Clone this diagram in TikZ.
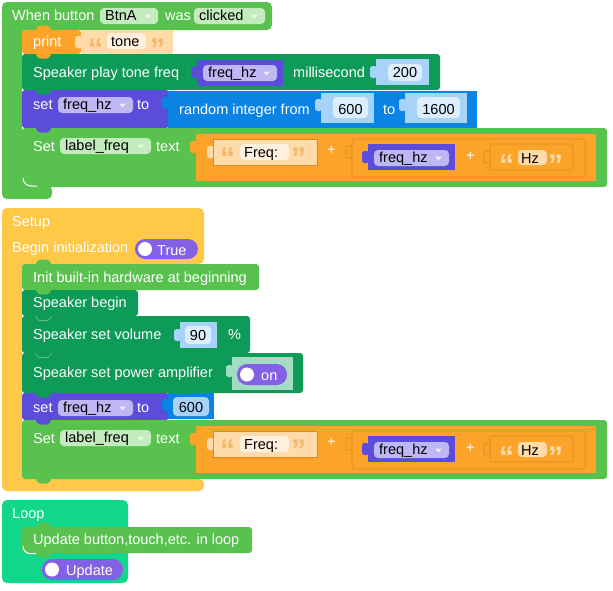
\documentclass[tikz,border=0pt]{standalone}
\usepackage{fontspec}
\setmainfont{Liberation Sans}
\usepackage{tikz}
\definecolor{evtgreen}{HTML}{59C24F}
\definecolor{evtfld}{HTML}{C3EBBD}
\definecolor{dkgreen}{HTML}{0E9A57}
\definecolor{prtorange}{HTML}{FCA32A}
\definecolor{strfill}{HTML}{FFDBA9}
\definecolor{strpill}{HTML}{FFF1DE}
\definecolor{strq}{HTML}{F5B769}
\definecolor{jnline}{HTML}{D98B1F}
\definecolor{varpurple}{HTML}{5B4CDC}
\definecolor{varfld}{HTML}{BFB7F3}
\definecolor{mathblue}{HTML}{0B83E5}
\definecolor{numblk}{HTML}{A6D3F7}
\definecolor{numfld}{HTML}{DCEEFD}
\definecolor{setupyel}{HTML}{FFC846}
\definecolor{looptl}{HTML}{12D78B}
\definecolor{togpurple}{HTML}{8461E4}
\definecolor{mint}{HTML}{A2DCC3}
\newcommand{\blkfont}{\fontsize{14.5}{17}\selectfont}
\newcommand{\qfont}{\fontsize{30}{30}\selectfont\bfseries}
\tikzset{
  lbl/.style   ={anchor=base west, inner sep=0pt, text=white, font=\blkfont},
  valtxt/.style={lbl, text=black},
  qmark/.style ={anchor=base west, inner sep=0pt, font=\qfont},
  pill/.style  ={rounded corners=4pt},
  toggle/.style={fill=togpurple, rounded corners=10pt},
  cblock/.style={rounded corners=5pt},
  stmt/.style  ={rounded corners=3pt},
  % outlined (shadowed) slot inside a join block
  outl/.style  ={fill=prtorange, draw=jnline, line width=.6pt, rounded corners=2pt},
}
% dropdown field: name, x, top, width, text, colour
\newcommand{\ddown}[6]{%
  \fill[#6, pill] (#2,#3) rectangle ++(#4,16);
  \node[valtxt] (#1) at (#2+5,#3+12) {#5};
  \fill[white, opacity=.7] (#2+#4-14,#3+6.5) -- ++(7,0) -- ++(-3.5,4) -- cycle;}
% number field: name, x, top, width, height, text, colour
\newcommand{\numfld}[7]{%
  \fill[#7, pill] (#2,#3) rectangle ++(#4,#5);
  \node[valtxt, anchor=base] (#1) at (#2+#4/2,#3+#5-4) {#6};}
% puzzle tab on the left edge of a value block
\newcommand{\ltab}[3]{\fill[#1, rounded corners=2.5pt] (#2-6,#3-6) rectangle (#2+1,#3+6);}
\newcommand{\ltabo}[2]{\filldraw[outl] (#1-6,#2-6) rectangle (#1+1,#2+6);}
% statement notches
\newcommand{\nubdown}[2]{\fill[#1, rounded corners=1.5pt] (35,#2) -- ++(4,4.5) -- ++(9,0) -- ++(4,-4.5) -- cycle;}
\newcommand{\nubup}[2]{\fill[#1, rounded corners=1.5pt] (35,#2) -- ++(4,-4.5) -- ++(9,0) -- ++(4,4.5) -- cycle;}
\newcommand{\nubline}[1]{\draw[dkgreen!65!white, line width=.6pt] (35,#1) -- ++(4,4.5) -- ++(9,0) -- ++(4,-4.5);}
% Set label_freq text "Freq:" + freq_hz + "Hz"
\newcommand{\labelrow}[2]{%
  \fill[evtgreen, stmt] (22,#2) rectangle (607,#2+59);
  \node[lbl] (#1set) at (33,#2+23) {Set};
  \ddown{#1lab}{60}{#2+10}{91}{label\_freq}{evtfld}
  \node[lbl] (#1txt) at (156,#2+23) {text};
  \ltab{prtorange}{196}{#2+19}
  \fill[prtorange] (196,#2+6) rectangle (596,#2+53);
  \ltab{strfill}{213}{#2+24}
  \filldraw[fill=strfill, draw=jnline, line width=.5pt] (213,#2+11) rectangle (317,#2+37);
  \node[qmark, text=strq] (#1qa) at (220,#2+40) {“};
  \fill[strpill, pill] (240,#2+16) rectangle (289,#2+32);
  \node[valtxt] (#1frq) at (244,#2+29) {Freq:};
  \node[qmark, text=strq] (#1qb) at (291,#2+40) {”};
  \node[lbl] (#1pla) at (327,#2+26) {+};
  \ltabo{352}{#2+24}
  \filldraw[outl] (352,#2+11) rectangle (585,#2+49);
  \ltab{varpurple}{368}{#2+29}
  \fill[varpurple] (368,#2+16) rectangle (455,#2+42);
  \ddown{#1var}{374}{#2+22}{75}{freq\_hz}{varfld}
  \node[lbl] (#1plb) at (466,#2+32) {+};
  \ltabo{490}{#2+29}
  \filldraw[outl] (490,#2+16) rectangle (573,#2+42);
  \node[qmark, text=strfill] (#1qc) at (499,#2+47) {“};
  \fill[strfill, pill] (518,#2+22) rectangle (547,#2+37);
  \node[valtxt] (#1hz) at (521,#2+35) {Hz};
  \node[qmark, text=strfill] (#1qd) at (548,#2+47) {”};}

\begin{document}
\begin{tikzpicture}[x=1pt,y=-1pt]
\useasboundingbox (0,0) rectangle (613,590);

% ---- When button BtnA was clicked
\fill[evtgreen, cblock] (2,2) -- (272,2) -- (272,30) -- (22,30) -- (22,185)
  -- (52,185) -- (52,199) -- (2,199) -- cycle;
\node[lbl] (when) at (12,20) {When button};
\ddown{btn}{100}{8}{58}{BtnA}{evtfld}
\node[lbl] (was) at (165,20) {was};
\ddown{clk}{194}{8}{71}{clicked}{evtfld}

\fill[prtorange, stmt] (22,30) rectangle (81,54);
\node[lbl] (print) at (33,46) {print};
\ltab{strfill}{81}{42}
\fill[strfill] (81,30) rectangle (173,54);
\node[qmark, text=strq] (pqa) at (88,59) {“};
\fill[strpill, pill] (107,33) rectangle (146,49);
\node[valtxt] (tone) at (111,46) {tone};
\node[qmark, text=strq] (pqb) at (150,59) {”};

\fill[dkgreen, stmt] (22,54) rectangle (440,90);
\node[lbl] (play) at (33,77) {Speaker play tone freq};
\ltab{varpurple}{197}{72}
\fill[varpurple] (197,60) rectangle (283,86);
\ddown{playvar}{203}{65}{74}{freq\_hz}{varfld}
\node[lbl] (ms) at (293,77) {millisecond};
\ltab{numblk}{376}{72}
\fill[numblk] (376,59) rectangle (429,85);
\numfld{msval}{388}{64}{34}{17}{200}{numfld}

\fill[varpurple, stmt] (22,90) rectangle (169,128);
\node[lbl] (seta) at (33,109) {set};
\ddown{setavar}{58}{97}{75}{freq\_hz}{varfld}
\node[lbl] (toa) at (137,109) {to};
\ltab{mathblue}{168}{103}
\fill[mathblue] (168,91) rectangle (477,128);
\node[lbl] (rnd) at (179,114) {random integer from};
\ltab{numblk}{321}{105}
\fill[numblk] (321,93) rectangle (374,123);
\numfld{lo}{333}{97}{35}{21}{600}{numfld}
\node[lbl] (tob) at (383,114) {to};
\ltab{numblk}{405}{105}
\fill[numblk] (405,93) rectangle (467,123);
\numfld{hi}{417}{97}{43}{21}{1600}{numfld}

\labelrow{a}{128}
\nubup{prtorange}{30}
\nubdown{prtorange}{54}
\nubdown{dkgreen}{90}
\nubdown{varpurple}{128}
\draw[white, line width=1pt] (23,178) to[out=-90,in=180] (31,186) -- (37,186);

% ---- Setup
\fill[setupyel, cblock] (2,208) -- (204,208) -- (204,264) -- (22,264) -- (22,479)
  -- (204,479) -- (204,491) -- (2,491) -- cycle;
\node[lbl] (setup) at (12,226) {Setup};
\node[lbl] (begin) at (12,252) {Begin initialization};
\fill[toggle] (135,239) rectangle (198,259);
\fill[white] (145,249) circle (7pt);
\node[lbl] (true) at (157,255) {True};

\fill[evtgreen, stmt] (22,264) rectangle (259,290);
\node[lbl] (init) at (33,282) {Init built-in hardware at beginning};
\fill[dkgreen, stmt] (22,290) rectangle (138,316);
\node[lbl] (spkbeg) at (33,307) {Speaker begin};
\fill[dkgreen, stmt] (22,316) rectangle (250,353);
\node[lbl] (vol) at (33,339) {Speaker set volume};
\ltab{numblk}{180}{335}
\fill[numblk] (180,322) rectangle (217,348);
\numfld{volval}{185}{326}{26}{18}{90}{numfld}
\node[lbl] (pct) at (228,339) {\%};
\fill[dkgreen, stmt] (22,353) rectangle (303,393);
\node[lbl] (amp) at (33,377) {Speaker set power amplifier};
\ltab{mint}{232}{371}
\fill[mint] (232,357) rectangle (293,390);
\fill[toggle] (237,364) rectangle (287,385);
\fill[white] (247,374.5) circle (7pt);
\node[lbl] (on) at (261,380) {on};

\fill[varpurple, stmt] (22,393) rectangle (169,420);
\node[lbl] (setb) at (33,412) {set};
\ddown{setbvar}{58}{400}{75}{freq\_hz}{varfld}
\node[lbl] (toc) at (137,412) {to};
\ltab{mathblue}{168}{405}
\fill[mathblue] (168,393) rectangle (214,419);
\numfld{initval}{173}{397}{36}{19}{600}{numblk}

\labelrow{b}{420}
\nubup{evtgreen}{264}
\nubdown{evtgreen}{290}
\nubline{316}
\nubline{353}
\nubdown{dkgreen}{393}
\nubdown{varpurple}{420}
\nubdown{evtgreen}{479}

% ---- Loop
\fill[looptl, cblock] (2,500) rectangle (128,583);
\node[lbl] (loop) at (12,518) {Loop};
\fill[evtgreen, stmt] (22,527) rectangle (252,553);
\node[lbl] (upd) at (33,544) {Update button,touch,etc. in loop};
\nubup{evtgreen}{527}
\nubdown{evtgreen}{553}
\draw[white, line width=1pt] (23,546) to[out=-90,in=180] (30,553.5) -- (36,553.5);
\fill[toggle] (42,559) rectangle (123,580);
\fill[white] (52,569.5) circle (7pt);
\node[lbl] (updtog) at (66,575) {Update};
\end{tikzpicture}
\end{document}
